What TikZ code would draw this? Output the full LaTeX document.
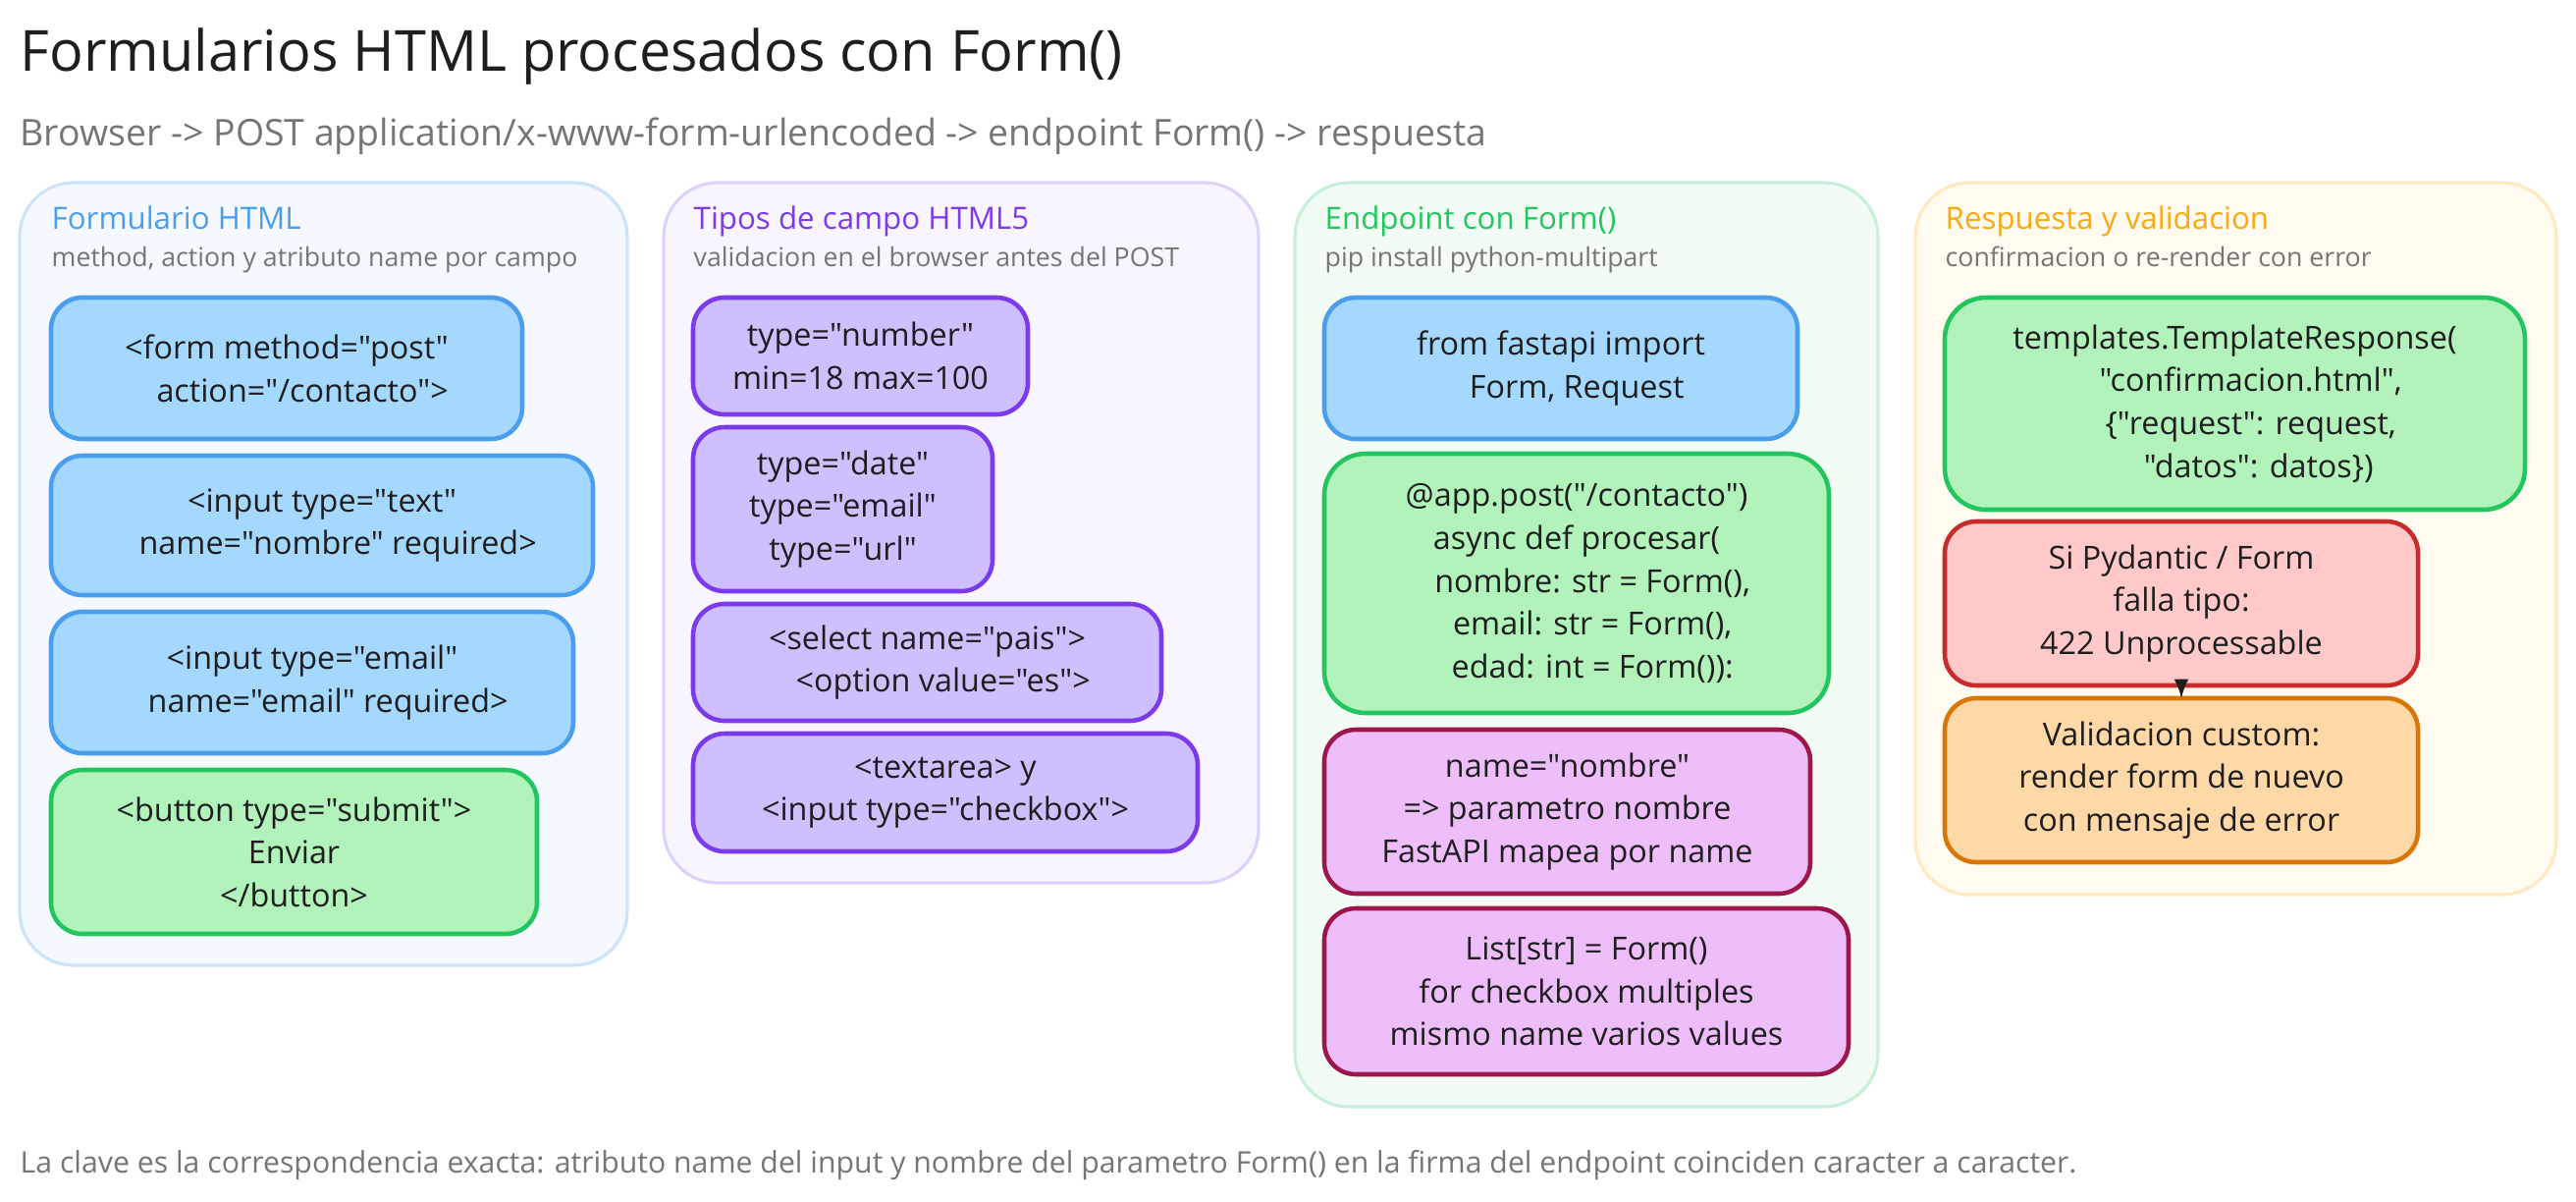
\documentclass[tikz,border=0pt]{standalone}
\usepackage{fontspec}
\setmainfont{Open Sans}[Ligatures=TeXOff]
\usetikzlibrary{positioning}

\definecolor{ink}{HTML}{1E1E1E}
\definecolor{muted}{HTML}{757575}
\definecolor{blueline}{HTML}{4A9EED}
\definecolor{bluefill}{HTML}{A5D8FF}
\definecolor{greenline}{HTML}{22C55E}
\definecolor{greenfill}{HTML}{B2F2BB}
\definecolor{purpleline}{HTML}{7C3AED}
\definecolor{purplefill}{HTML}{D0BFFF}
\definecolor{pinkline}{HTML}{9D174D}
\definecolor{pinkfill}{HTML}{EEBEFA}
\definecolor{redline}{HTML}{C92A2A}
\definecolor{redfill}{HTML}{FFC9C9}
\definecolor{orangeline}{HTML}{D97706}
\definecolor{orangefill}{HTML}{FFD8A8}
\definecolor{amber}{HTML}{FAA90F}
\definecolor{paneblue}{HTML}{F5F8FF}
\definecolor{paneblueline}{HTML}{CBE3FB}
\definecolor{panepurple}{HTML}{F8F5FF}
\definecolor{panepurpleline}{HTML}{DED1FB}
\definecolor{panegreen}{HTML}{F2FCF5}
\definecolor{panegreenline}{HTML}{C8F0D8}
\definecolor{paneamber}{HTML}{FFFBF0}
\definecolor{paneamberline}{HTML}{FFE9C0}

\tikzset{
  sz/.style 2 args={minimum width=#1cm, minimum height=#2cm},
  panel/.style={draw, line width=.9pt, rounded corners=.55cm, anchor=north west, inner sep=0, outer sep=0},
  item/.style={draw, line width=1.3pt, rounded corners=.32cm, align=center, text=ink, inner sep=0, outer sep=0,
    font=\fontsize{9.2}{12.4}\selectfont},
  itemblue/.style={item, draw=blueline, fill=bluefill},
  itemgreen/.style={item, draw=greenline, fill=greenfill},
  itempurple/.style={item, draw=purpleline, fill=purplefill},
  itempink/.style={item, draw=pinkline, fill=pinkfill},
  itemred/.style={item, draw=redline, fill=redfill},
  itemorange/.style={item, draw=orangeline, fill=orangefill},
  head/.style={anchor=base west, inner sep=0, font=\fontsize{8.9}{12}\selectfont},
  note/.style={anchor=base west, inner sep=0, text=muted, font=\fontsize{7.6}{10}\selectfont},
  first/.style={anchor=north west}
}
\newcommand{\ind}[1]{\hspace*{#1em}}

\begin{document}
\begin{tikzpicture}[y=-1cm, >=latex]
   \useasboundingbox (0,0) rectangle (26.24,12.23);

   \node[anchor=base west, inner sep=0, text=ink, font=\fontsize{16.4}{20}\selectfont] (title) at (.20,.72) {Formularios HTML procesados con Form()};
   \node[anchor=base west, inner sep=0, text=muted, font=\fontsize{10.65}{14}\selectfont] (subtitle) at (.20,1.48) {Browser -> POST application/x-www-form-urlencoded -> endpoint Form() -> respuesta};

   % panels
   \node[panel, sz={6.19}{7.97}, draw=paneblueline, fill=paneblue] (panelA) at (.20,1.86) {};
   \node[panel, sz={6.06}{7.13}, draw=panepurpleline, fill=panepurple] (panelB) at (6.76,1.86) {};
   \node[panel, sz={5.94}{9.41}, draw=panegreenline, fill=panegreen] (panelC) at (13.19,1.86) {};
   \node[panel, sz={6.53}{7.25}, draw=paneamberline, fill=paneamber] (panelD) at (19.51,1.86) {};

   % panel headings
   \node[head, text=blueline] (headA) at (.52,2.33) {Formulario HTML};
   \node[note] (noteA) at (.52,2.71) {method, action y atributo name por campo};
   \node[head, text=purpleline] (headB) at (7.06,2.33) {Tipos de campo HTML5};
   \node[note] (noteB) at (7.06,2.71) {validacion en el browser antes del POST};
   \node[head, text=greenline] (headC) at (13.49,2.33) {Endpoint con Form()};
   \node[note] (noteC) at (13.49,2.71) {pip install python-multipart};
   \node[head, text=amber] (headD) at (19.81,2.33) {Respuesta y validacion};
   \node[note] (noteD) at (19.81,2.71) {confirmacion o re-render con error};

   % first column
   \node[itemblue, first, sz={4.80}{1.44}] (formtag) at (.52,3.03) {<form method="post"\\ \ind{1}action="/contacto">};
   \node[itemblue, sz={5.52}{1.42}] (inputtext) [below=.17cm of formtag.south west, anchor=north west] {<input type="text"\\ \ind{1}name="nombre" required>};
   \node[itemblue, sz={5.32}{1.44}] (inputmail) [below=.17cm of inputtext.south west, anchor=north west] {<input type="email"\\ \ind{1}name="email" required>};
   \node[itemgreen, sz={4.95}{1.67}] (button) [below=.17cm of inputmail.south west, anchor=north west] {<button type="submit">\\ Enviar\\ </button>};

   % second column
   \node[itempurple, first, sz={3.41}{1.19}] (number) at (7.06,3.03) {type="number"\\ min=18 max=100};
   \node[itempurple, sz={3.05}{1.67}] (date) [below=.13cm of number.south west, anchor=north west] {type="date"\\ type="email"\\ type="url"};
   \node[itempurple, sz={4.77}{1.19}] (select) [below=.13cm of date.south west, anchor=north west] {<select name="pais">\\ \ind{1}<option value="es">};
   \node[itempurple, sz={5.14}{1.20}] (textarea) [below=.13cm of select.south west, anchor=north west] {<textarea> y\\ <input type="checkbox">};

   % third column
   \node[itemblue, first, sz={4.82}{1.44}] (import) at (13.49,3.03) {from fastapi import\\ \ind{1}Form, Request};
   \node[itemgreen, rounded corners=.42cm, sz={5.14}{2.64}] (endpoint) [below=.15cm of import.south west, anchor=north west] {@app.post("/contacto")\\ async def procesar(\\ \ind{1}nombre: str = Form(),\\ \ind{1}email: str = Form(),\\ \ind{1}edad: int = Form()):};
   \node[itempink, sz={4.95}{1.67}] (mapping) [below=.17cm of endpoint.south west, anchor=north west] {name="nombre"\\ => parametro nombre\\ FastAPI mapea por name};
   \node[itempink, sz={5.34}{1.69}] (multi) [below=.15cm of mapping.south west, anchor=north west] {List[str] = Form()\\ for checkbox multiples\\ mismo name varios values};

   % fourth column
   \node[itemgreen, first, rounded corners=.42cm, sz={5.91}{2.16}] (template) at (19.81,3.03) {templates.TemplateResponse(\\ \ind{1}"confirmacion.html",\\ \ind{1}\{"request": request,\\ \ind{1.5}"datos": datos\})};
   \node[itemred, sz={4.82}{1.67}] (fail) [below=.12cm of template.south west, anchor=north west] {Si Pydantic / Form\\ falla tipo:\\ 422 Unprocessable};
   \node[itemorange, sz={4.82}{1.67}] (custom) [below=.13cm of fail.south west, anchor=north west] {Validacion custom:\\ render form de nuevo\\ con mensaje de error};
   \draw[->, ink, line width=.9pt] (fail) -- (custom);

   \node[note, font=\fontsize{8.6}{10}\selectfont] (footer) at (.20,11.94) {La clave es la correspondencia exacta: atributo name del input y nombre del parametro Form() en la firma del endpoint coinciden caracter a caracter.};
\end{tikzpicture}
\end{document}
